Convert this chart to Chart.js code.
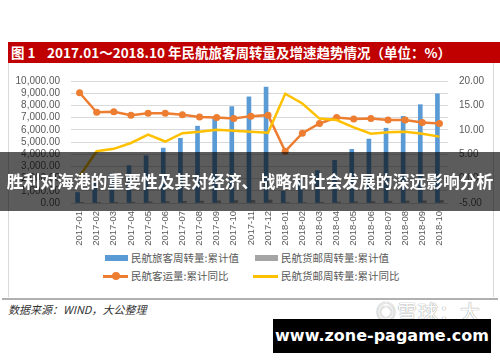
<!DOCTYPE html>
<html lang="zh-CN">
<head>
<meta charset="utf-8">
<title>民航旅客周转量及增速趋势</title>
<script src="https://cdn.jsdelivr.net/npm/chart.js@4/dist/chart.umd.min.js"></script>
<style>
    html, body { margin: 0; padding: 0; background: #fff; }
    body { width: 500px; height: 362px; position: relative; overflow: hidden; font-family: "Noto Sans CJK SC", sans-serif; }
    .titulo { position: absolute; left: 8px; top: 42px; width: 492px; height: 21px; background: #c00000; color: #fff;
        font-weight: bold; font-size: 13.5px; line-height: 21px; white-space: nowrap; }
    .titulo .num { position: absolute; left: 3px; }
    .titulo .txt { position: absolute; left: 39px; }
    .moldura { position: absolute; left: 8px; top: 63px; width: 484px; height: 234px; border: 1px solid #d9d9d9; border-top: none; border-bottom: none; }
    .linha-base { position: absolute; left: 2px; top: 298px; width: 496px; height: 2px; background: #b0b0b0; }
    #wrap { position: absolute; left: 8px; top: 64px; }
    .legenda { position: absolute; left: 0; top: 249px; width: 500px; height: 36px; font-size: 10.5px; color: #595959; }
    .leg-item { position: absolute; height: 16px; line-height: 16px; white-space: nowrap; }
    .leg-item .sw { position: absolute; top: 0; width: 25px; height: 16px; }
    .leg-item .lbl { position: absolute; left: 28px; }
    .fonte { position: absolute; left: 8px; top: 301px; font-size: 11px; font-style: italic; color: #333; }
    .marca { position: absolute; left: 376px; top: 297px; font-size: 20px; color: #fff; letter-spacing: 1px;
        text-shadow: 0 0 1px #999, 0 0 1px #999; }
    .faixa { position: absolute; left: 0; top: 152px; width: 500px; height: 59px; background: rgba(0, 0, 0, 0.64);
        color: #fff; font-weight: bold; font-size: 16.8px; line-height: 59px; text-align: center; white-space: nowrap; z-index: 5; }
    .site { position: absolute; left: 273px; top: 319px; width: 218px; height: 34px; background: #000; color: #fff;
        font-family: "DejaVu Sans", sans-serif; font-weight: bold; font-size: 16px; line-height: 34px; text-align: center; }
</style>
</head>
<body>
<div class="titulo"><span class="num">图 1</span><span class="txt">2017.01～2018.10 年民航旅客周转量及增速趋势情况（单位：%）</span></div>
<div class="moldura"></div>
<div id="wrap"><canvas id="chartAviacao" width="485" height="184"></canvas></div>
<div class="legenda" id="legenda"></div>
<div class="linha-base"></div>
<div class="fonte">数据来源：WIND，大公整理</div>
<div class="marca">◎雪球：大公</div>
<div class="faixa">胜利对海港的重要性及其对经济、战略和社会发展的深远影响分析</div>
<div class="site">www.zone-pagame.com</div>

<script>
// dados
const meses = ['2017-01', '2017-02', '2017-03', '2017-04', '2017-05', '2017-06', '2017-07', '2017-08', '2017-09', '2017-10', '2017-11', '2017-12',
    '2018-01', '2018-02', '2018-03', '2018-04', '2018-05', '2018-06', '2018-07', '2018-08', '2018-09', '2018-10'];

const passageiroKmAcum = [855, 1650, 2400, 3060, 3870, 4500, 5300, 6300, 6950, 7900, 8700, 9500,
    960, 1850, 2660, 3500, 4400, 5240, 6130, 7100, 8060, 8950];
const cargaKmAcum = [18, 36, 57, 77, 97, 118, 139, 160, 181, 203, 224, 244,
    19, 37, 59, 80, 101, 122, 143, 165, 186, 208];
const passageirosYoY = [17.6, 13.6, 13.7, 13.0, 13.4, 13.4, 13.1, 12.6, 12.5, 12.3, 12.8, 13.0,
    5.6, 9.3, 11.3, 12.5, 12.2, 12.3, 12.0, 12.0, 11.5, 11.3];
const cargaKmYoY = [0.5, 5.6, 6.1, 7.3, 9.0, 7.6, 9.3, 9.6, 10.0, 9.8, 9.6, 9.4,
    17.4, 15.4, 12.3, 12.0, 10.5, 9.2, 9.5, 9.6, 9.2, 8.6];

const nomesSeries = ['民航旅客周转量:累计值', '民航货邮周转量:累计值', '民航客运量:累计同比', '民航货邮周转量:累计同比'];
const coresSeries = ['#5b9bd5', '#a5a5a5', '#ed7d31', '#ffc000'];

const fonteEixo = { family: '"Liberation Sans", Arial, sans-serif', size: 10 };

function formatMilhar(v) {
    return v.toLocaleString('en-US', { minimumFractionDigits: 2, maximumFractionDigits: 2 });
}

function renderChart() {
    const ctx = document.getElementById('chartAviacao').getContext('2d');
    return new Chart(ctx, {
        type: 'bar',
        data: {
            labels: meses,
            datasets: [
                { type: 'bar', label: nomesSeries[0], data: passageiroKmAcum, backgroundColor: coresSeries[0], yAxisID: 'y', barThickness: 4, order: 3 },
                { type: 'bar', label: nomesSeries[1], data: cargaKmAcum, backgroundColor: coresSeries[1], yAxisID: 'y', barThickness: 4, order: 3 },
                { type: 'line', label: nomesSeries[2], data: passageirosYoY, borderColor: coresSeries[2], backgroundColor: coresSeries[2],
                  borderWidth: 2.5, pointRadius: 3.5, pointBorderWidth: 0, tension: 0, yAxisID: 'y1', order: 1 },
                { type: 'line', label: nomesSeries[3], data: cargaKmYoY, borderColor: coresSeries[3], backgroundColor: coresSeries[3],
                  borderWidth: 2.5, pointRadius: 0, tension: 0, yAxisID: 'y1', order: 0 }
            ]
        },
        options: {
            responsive: false,
            animation: false,
            layout: { padding: { top: 15, left: 0, right: 0, bottom: 0 } },
            plugins: {
                legend: { display: false },
                tooltip: { enabled: false }
            },
            scales: {
                x: {
                    grid: { display: false, drawTicks: false },
                    border: { display: false },
                    ticks: { autoSkip: false, minRotation: 90, maxRotation: 90, padding: 8, color: '#595959', font: { family: fonteEixo.family, size: 9.5 } },
                    afterFit: s => { s.height = 45; }
                },
                y: {
                    position: 'left',
                    min: 0, max: 10000,
                    grid: { color: '#d9d9d9', drawTicks: false },
                    border: { display: false },
                    ticks: { stepSize: 1000, autoSkip: false, padding: 11, color: '#595959', font: fonteEixo, callback: v => formatMilhar(v) },
                    afterFit: s => { s.width = 63; }
                },
                y1: {
                    position: 'right',
                    min: -5, max: 20,
                    grid: { display: false, drawTicks: false },
                    border: { display: false },
                    ticks: { stepSize: 5, autoSkip: false, padding: 11, color: '#595959', font: fonteEixo, callback: v => v.toFixed(2) },
                    afterFit: s => { s.width = 45; }
                }
            }
        }
    });
}

function renderLegenda(chart) {
    const box = document.getElementById('legenda');
    // posições das 4 entradas (2 linhas x 2 colunas)
    const pos = [[103, 1], [253, 1], [103, 19], [253, 19]];
    chart.data.datasets.forEach((ds, i) => {
        let sw;
        if (ds.type === 'bar') {
            sw = `<div class="sw"><div style="position:absolute;left:2px;top:5px;width:23px;height:6px;background:${ds.backgroundColor}"></div></div>`;
        } else {
            const marcador = ds.pointRadius > 0
                ? `<div style="position:absolute;left:9px;top:4px;width:8px;height:8px;border-radius:50%;background:${ds.borderColor}"></div>` : '';
            sw = `<div class="sw"><div style="position:absolute;left:0;top:7px;width:25px;height:3px;background:${ds.borderColor}"></div>${marcador}</div>`;
        }
        box.innerHTML += `<div class="leg-item" style="left:${pos[i][0]}px;top:${pos[i][1]}px">${sw}<span class="lbl">${ds.label}</span></div>`;
    });
}

const grafico = renderChart();
renderLegenda(grafico);
</script>
</body>
</html>
